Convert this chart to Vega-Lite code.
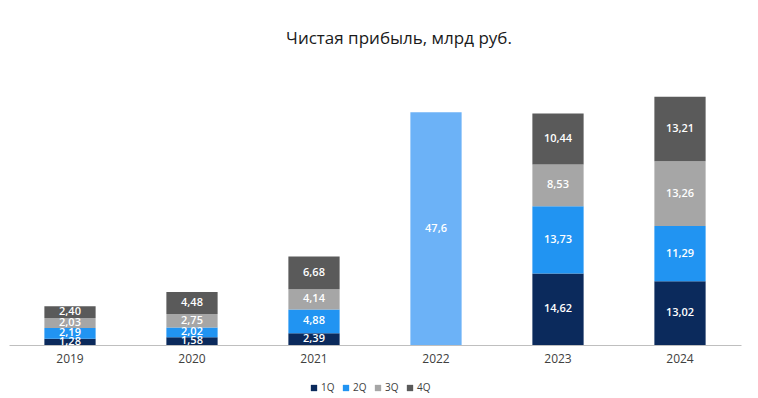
{
  "$schema": "https://vega.github.io/schema/vega-lite/v6.json",
  "width": 732,
  "height": 269,
  "autosize": {"type": "none"},
  "padding": {"left": 9, "top": 76, "right": 17, "bottom": 53},
  "background": "white",
  "title": {
    "text": "Чистая прибыль, млрд руб.",
    "fontSize": 17,
    "font": "Open Sans",
    "fontWeight": "normal",
    "color": "#1a1a1a",
    "anchor": "middle",
    "dx": 24,
    "offset": 28
  },
  "data": {
    "values": [
      {"year": "2019", "q": "1Q", "ord": 1, "value": 1.28, "label": "1,28"},
      {"year": "2019", "q": "2Q", "ord": 2, "value": 2.19, "label": "2,19"},
      {"year": "2019", "q": "3Q", "ord": 3, "value": 2.03, "label": "2,03"},
      {"year": "2019", "q": "4Q", "ord": 4, "value": 2.40, "label": "2,40"},
      {"year": "2020", "q": "1Q", "ord": 1, "value": 1.58, "label": "1,58"},
      {"year": "2020", "q": "2Q", "ord": 2, "value": 2.02, "label": "2,02"},
      {"year": "2020", "q": "3Q", "ord": 3, "value": 2.75, "label": "2,75"},
      {"year": "2020", "q": "4Q", "ord": 4, "value": 4.48, "label": "4,48"},
      {"year": "2021", "q": "1Q", "ord": 1, "value": 2.39, "label": "2,39"},
      {"year": "2021", "q": "2Q", "ord": 2, "value": 4.88, "label": "4,88"},
      {"year": "2021", "q": "3Q", "ord": 3, "value": 4.14, "label": "4,14"},
      {"year": "2021", "q": "4Q", "ord": 4, "value": 6.68, "label": "6,68"},
      {"year": "2022", "q": "Год", "ord": 1, "value": 47.6, "label": "47,6"},
      {"year": "2023", "q": "1Q", "ord": 1, "value": 14.62, "label": "14,62"},
      {"year": "2023", "q": "2Q", "ord": 2, "value": 13.73, "label": "13,73"},
      {"year": "2023", "q": "3Q", "ord": 3, "value": 8.53, "label": "8,53"},
      {"year": "2023", "q": "4Q", "ord": 4, "value": 10.44, "label": "10,44"},
      {"year": "2024", "q": "1Q", "ord": 1, "value": 13.02, "label": "13,02"},
      {"year": "2024", "q": "2Q", "ord": 2, "value": 11.29, "label": "11,29"},
      {"year": "2024", "q": "3Q", "ord": 3, "value": 13.26, "label": "13,26"},
      {"year": "2024", "q": "4Q", "ord": 4, "value": 13.21, "label": "13,21"}
    ]
  },
  "transform": [
    {"stack": "value", "groupby": ["year"], "sort": [{"field": "ord", "order": "ascending"}], "as": ["v0", "v1"]},
    {"calculate": "(datum.v0 + datum.v1) / 2", "as": "vmid"}
  ],
  "encoding": {
    "x": {
      "field": "year",
      "type": "ordinal",
      "scale": {"paddingInner": 0.58, "paddingOuter": 0.29},
      "axis": {
        "title": null,
        "labelAngle": 0,
        "ticks": false,
        "domainColor": "#bfbfbf",
        "domainWidth": 1,
        "labelFont": "Open Sans",
        "labelFontSize": 12,
        "labelColor": "#404040",
        "labelPadding": 8
      }
    }
  },
  "layer": [
    {
      "mark": {"type": "bar"},
      "encoding": {
        "y": {"field": "v0", "type": "quantitative", "scale": {"domain": [0, 55]}, "axis": null},
        "y2": {"field": "v1"},
        "color": {
          "field": "q",
          "type": "nominal",
          "scale": {
            "domain": ["1Q", "2Q", "3Q", "4Q", "Год"],
            "range": ["#0b2a5c", "#2194f2", "#a6a6a6", "#5a5a5a", "#6cb2f7"]
          },
          "legend": {
            "values": ["1Q", "2Q", "3Q", "4Q"],
            "title": null,
            "orient": "none",
            "direction": "horizontal",
            "legendX": 300,
            "legendY": 307,
            "symbolType": "square",
            "symbolSize": 40,
            "symbolStrokeWidth": 0,
            "labelFont": "Open Sans",
            "labelFontSize": 10,
            "labelColor": "#404040",
            "labelOffset": 2,
            "columnPadding": 6
          }
        }
      }
    },
    {
      "mark": {"type": "text", "color": "white", "font": "Open Sans", "fontSize": 11, "fontWeight": 600, "baseline": "middle"},
      "encoding": {
        "y": {"field": "vmid", "type": "quantitative", "scale": {"domain": [0, 55]}},
        "text": {"field": "label"}
      }
    }
  ],
  "config": {"view": {"stroke": null}}
}
